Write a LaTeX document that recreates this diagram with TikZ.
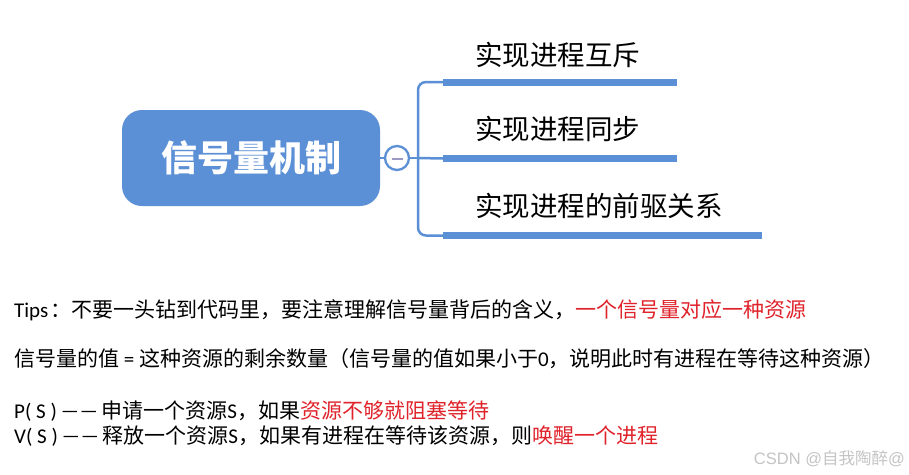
\documentclass[tikz,border=0pt]{standalone}
\usepackage{fontspec}
\setmainfont{Noto Sans CJK SC}
\newfontfamily\lat{Carlito}
\newfontfamily\arialf{Liberation Sans}
\newfontfamily\dashfont[CharacterWidth=Full,FakeBold=3]{Noto Sans CJK SC}
\definecolor{mblue}{HTML}{5B8FD6}
\definecolor{mred}{HTML}{E0222A}
\definecolor{wmgray}{HTML}{C4C4C4}
\definecolor{minusc}{HTML}{9A9AC4}
\newcommand{\dashpair}{\raisebox{1.2pt}{\dashfont\fontsize{16}{16}\selectfont —\kern3pt—}}
\tikzset{
  rootbox/.style={rounded corners=20pt, fill=mblue, draw=none, minimum width=258pt, minimum height=96pt,
    text=white, font=\fontsize{36}{36}\selectfont\bfseries, inner sep=0pt, text height=29.5pt, text depth=2.5pt},
  toggle/.style={circle, draw=mblue, line width=2.3pt, fill=white, minimum size=24pt, inner sep=0pt},
  branch/.style={draw=mblue, line width=2.5pt, rounded corners=8pt},
  topicbar/.style={draw=mblue, line width=7pt, line cap=butt},
  topictext/.style={anchor=west, inner sep=0pt, font=\fontsize{27.5}{27.5}\selectfont, text height=22.5pt, text depth=1.9pt},
  bodytext/.style={anchor=west, inner sep=0pt, font=\fontsize{21}{21}\selectfont, text height=17.2pt, text depth=1.5pt},
  watermark/.style={anchor=east, inner sep=0pt, text=wmgray, font=\fontsize{16.5}{16.5}\selectfont, text height=13.5pt, text depth=1.2pt}
}
\begin{document}
\begin{tikzpicture}[x=1pt,y=-1pt]
\useasboundingbox (0,0) rectangle (909,474);
\fill[white] (0,0) rectangle (909,474);

% root
\node[rootbox] (root) at (251,158) {信号量机制};
\node[toggle] (tog) at (397,158) {};
\draw[minusc, line width=2pt] (391.5,158.5) -- (402.5,158.5);

% junction and bars
\coordinate (j) at (418,158);
\coordinate (b1s) at (443,82);   \coordinate (b1e) at (677,82);
\coordinate (b2s) at (443,158.5);  \coordinate (b2e) at (677,158.5);
\coordinate (b3s) at (443,235.5);  \coordinate (b3e) at (762,235.5);

\draw[branch] (root.east) -- (tog.west);
\draw[branch] (tog.east) -- (j);
\draw[branch] (j) |- (b1s);
\draw[branch] (j) |- (b3s);
\draw[branch] (j) -- (b2s);

\draw[topicbar] (b1s) -- (b1e);
\draw[topicbar] (b2s) -- (b2e);
\draw[topicbar] (b3s) -- (b3e);

\node[topictext] (t1) at (475,55) {实现进程互斥};
\node[topictext] (t2) at (475,129) {实现进程同步};
\node[topictext] (t3) at (475,206.5) {实现进程的前驱关系};

% body text
\node[bodytext] (l1) at (14,310) {{\lat Tips}\kern2pt：不要一头钻到代码里，要注意理解信号量背后的含义，\textcolor{mred}{一个信号量对应一种资源}};
\node[bodytext] (l2) at (14,359) {信号量的值{\lat\ =\ }这种资源的剩余数量（信号量的值如果小于{\lat 0}，说明此时有进程在等待这种资源）};
\node[bodytext] (l3) at (14,411) {{\lat P( S ) }\dashpair{\lat\ }申请一个资源{\lat S}，如果\textcolor{mred}{资源不够就阻塞等待}};
\node[bodytext] (l4) at (14,436) {{\lat V( S ) }\dashpair{\lat\ }释放一个资源{\lat S}，如果有进程在等待该资源，则\textcolor{mred}{唤醒一个进程}};

\node[watermark] (wm) at (905,458) {{\arialf CSDN @}自我陶醉{\arialf @}};
\end{tikzpicture}
\end{document}
